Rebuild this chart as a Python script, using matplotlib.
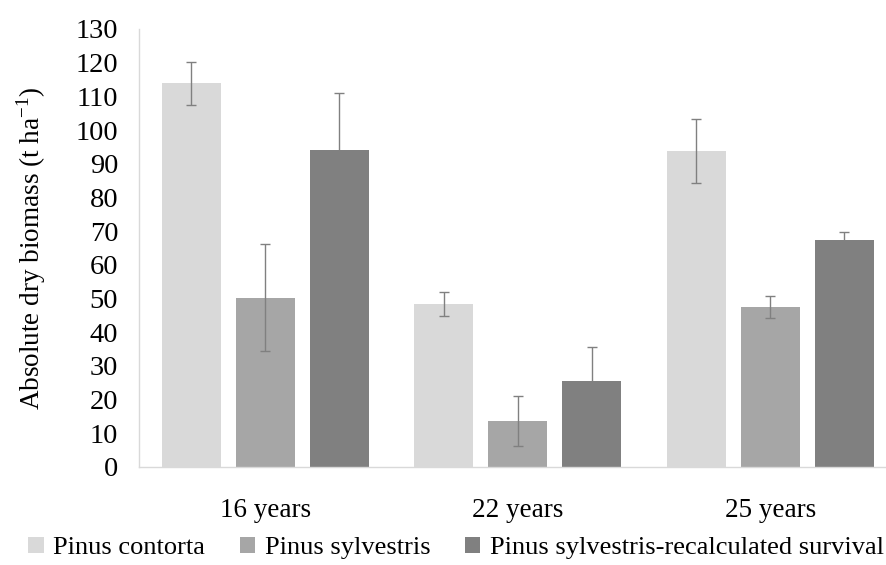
import numpy as np
import matplotlib
matplotlib.use("Agg")
import matplotlib.pyplot as plt

# data
ages = ["16 years", "22 years", "25 years"]
species = ["Pinus contorta", "Pinus sylvestris", "Pinus sylvestris-recalculated survival"]
contorta = [113.9, 48.4, 93.8]
contorta_err = [6.4, 3.6, 9.5]
sylvestris = [50.2, 13.6, 47.6]
sylvestris_err = [15.9, 7.5, 3.3]
recalc = [94.1, 25.5, 67.5]
recalc_err = [16.8, 10.0, 2.2]

colors = ["#d9d9d9", "#a6a6a6", "#808080"]

plt.rcParams['font.family'] = ['Liberation Serif', 'DejaVu Serif']

W, H = 887, 565
fig = plt.figure(figsize=(W / 100, H / 100), dpi=100)
ax = fig.add_axes([139 / W, (H - 467) / H, (896.5 - 139) / W, (467 - 29) / H])

x = np.arange(len(ages))
step = 74 / 252.5
width = 59 / 252.5
series = [(contorta, contorta_err), (sylvestris, sylvestris_err), (recalc, recalc_err)]
for i, (vals, errs) in enumerate(series):
    ax.bar(x + (i - 1) * step, vals, width, color=colors[i], label=species[i],
           yerr=errs, capsize=3.6,
           error_kw=dict(ecolor="#808080", elinewidth=1, capthick=1))

ax.set_xlim(-0.5, 2.5)
ax.set_ylim(0, 130)
ax.set_yticks(np.arange(0, 131, 10))
ax.set_xticks(x)
ax.set_xticklabels(ages)
ax.tick_params(axis="y", length=0, pad=15, labelsize=20.5)
ax.tick_params(axis="x", length=0, pad=22, labelsize=19.5)
for s in ["top", "right"]:
    ax.spines[s].set_visible(False)
for s in ["left", "bottom"]:
    ax.spines[s].set_color("#d9d9d9")
    ax.spines[s].set_linewidth(1)

ax.set_ylabel("Absolute dry biomass (t ha$^{\\mathregular{-1}}$)", fontsize=19.5, labelpad=20)

fig.legend(loc="center", bbox_to_anchor=(456 / W, 1 - 548 / H), ncol=3,
           frameon=False, fontsize=19, handlelength=0.6, handleheight=0.6,
           handletextpad=0.35, columnspacing=1.3, borderaxespad=0)

fig.savefig("out.png", dpi=100)
